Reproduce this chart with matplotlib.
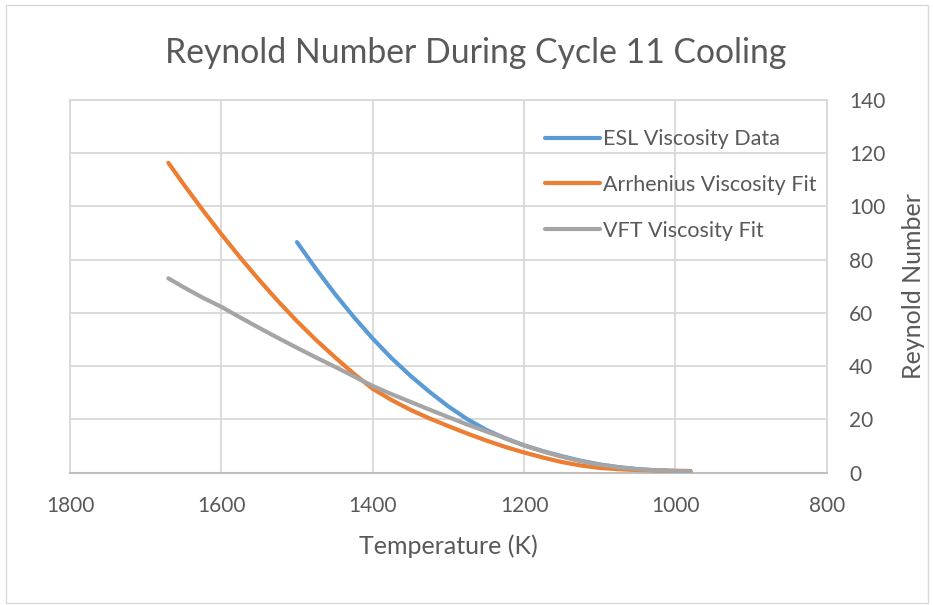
import matplotlib
matplotlib.use('Agg')
import matplotlib.pyplot as plt
from matplotlib.patches import Rectangle

plt.rcParams['font.family'] = ['Lato', 'DejaVu Sans']

# temperatures (K) the curves were read at
temps = [1670, 1650, 1625, 1600, 1575, 1550, 1525, 1500, 1475, 1450, 1425,
         1400, 1375, 1350, 1325, 1300, 1275, 1250, 1225, 1200, 1175, 1150,
         1125, 1100, 1075, 1050, 1025, 1000, 980]

arrhenius_fit = [116.4, 108.4, 98.8, 89.6, 80.8, 72.4, 64.4, 56.9, 49.9, 43.4,
                 37.2, 31.5, 27.3, 23.6, 20.4, 17.5, 14.7, 12.1, 9.7, 7.6,
                 5.7, 4.0, 2.7, 1.8, 1.3, 1.0, 0.85, 0.72, 0.65]

vft_fit = [73.0, 69.7, 65.8, 62.3, 58.3, 54.4, 50.6, 46.9, 43.3, 39.8,
           36.2, 32.6, 29.5, 26.6, 23.7, 20.9, 18.1, 15.5, 13.0, 10.2,
           8.0, 6.0, 4.3, 3.0, 2.0, 1.3, 0.9, 0.65, 0.5]

# ESL data only starts at 1500 K
esl_temps = temps[7:]
esl_data = [86.6, 76.6, 67.2, 58.5, 50.4, 43.0, 36.4, 30.4, 24.9, 20.1,
            16.1, 12.9, 10.3, 8.1, 6.2, 4.5, 3.1, 2.1, 1.35, 0.9, 0.6, 0.45]

text_col = '#595959'
grid_col = '#D9D9D9'

fig = plt.figure(figsize=(9.34, 6.05), dpi=100)
ax = fig.add_axes([70 / 934, 132.3 / 605, 756.7 / 934, 372.7 / 605])

ax.plot(esl_temps, esl_data, color='#5B9BD5', lw=3, label='ESL Viscosity Data',
        solid_capstyle='round', solid_joinstyle='round', zorder=3)
ax.plot(temps, arrhenius_fit, color='#ED7D31', lw=3, label='Arrhenius Viscosity Fit',
        solid_capstyle='round', solid_joinstyle='round', zorder=4)
ax.plot(temps, vft_fit, color='#A5A5A5', lw=3, label='VFT Viscosity Fit',
        solid_capstyle='round', solid_joinstyle='round', zorder=5)

ax.set_xlim(1800, 800)
ax.set_ylim(0, 140)
ax.set_xticks(range(1800, 799, -200))
ax.set_yticks(range(0, 141, 20))
ax.yaxis.tick_right()
ax.yaxis.set_label_position('right')
ax.grid(True, color=grid_col, lw=1.3)
ax.set_axisbelow(True)
ax.tick_params(length=0, labelsize=15, labelcolor=text_col)
ax.tick_params(axis='x', pad=17)
ax.tick_params(axis='y', pad=16)
for side in ['top', 'left', 'right']:
    ax.spines[side].set_color(grid_col)
    ax.spines[side].set_linewidth(1.3)
ax.spines['bottom'].set_color('#BFBFBF')
ax.spines['bottom'].set_linewidth(1.5)

ax.set_xlabel('Temperature (K)', fontsize=18, color=text_col, labelpad=13)
ax.set_ylabel('Reynold Number', fontsize=18, color=text_col, labelpad=12)

leg = ax.legend(loc='upper left', bbox_to_anchor=(0.628, 0.922), frameon=False,
                fontsize=15.5, handlelength=2.55, labelspacing=1.2,
                handletextpad=0.15, borderaxespad=0, borderpad=0)
for t in leg.get_texts():
    t.set_color(text_col)

fig.text(476 / 934, 1 - 53 / 605, 'Reynold Number During Cycle 11 Cooling',
         ha='center', va='center', fontsize=24.3, color=text_col)

fig.patches.append(Rectangle((6 / 934, 2 / 605), 922 / 934, 598 / 605,
                             transform=fig.transFigure, fill=False,
                             edgecolor=grid_col, lw=1))

fig.savefig('out.png', dpi=100)
